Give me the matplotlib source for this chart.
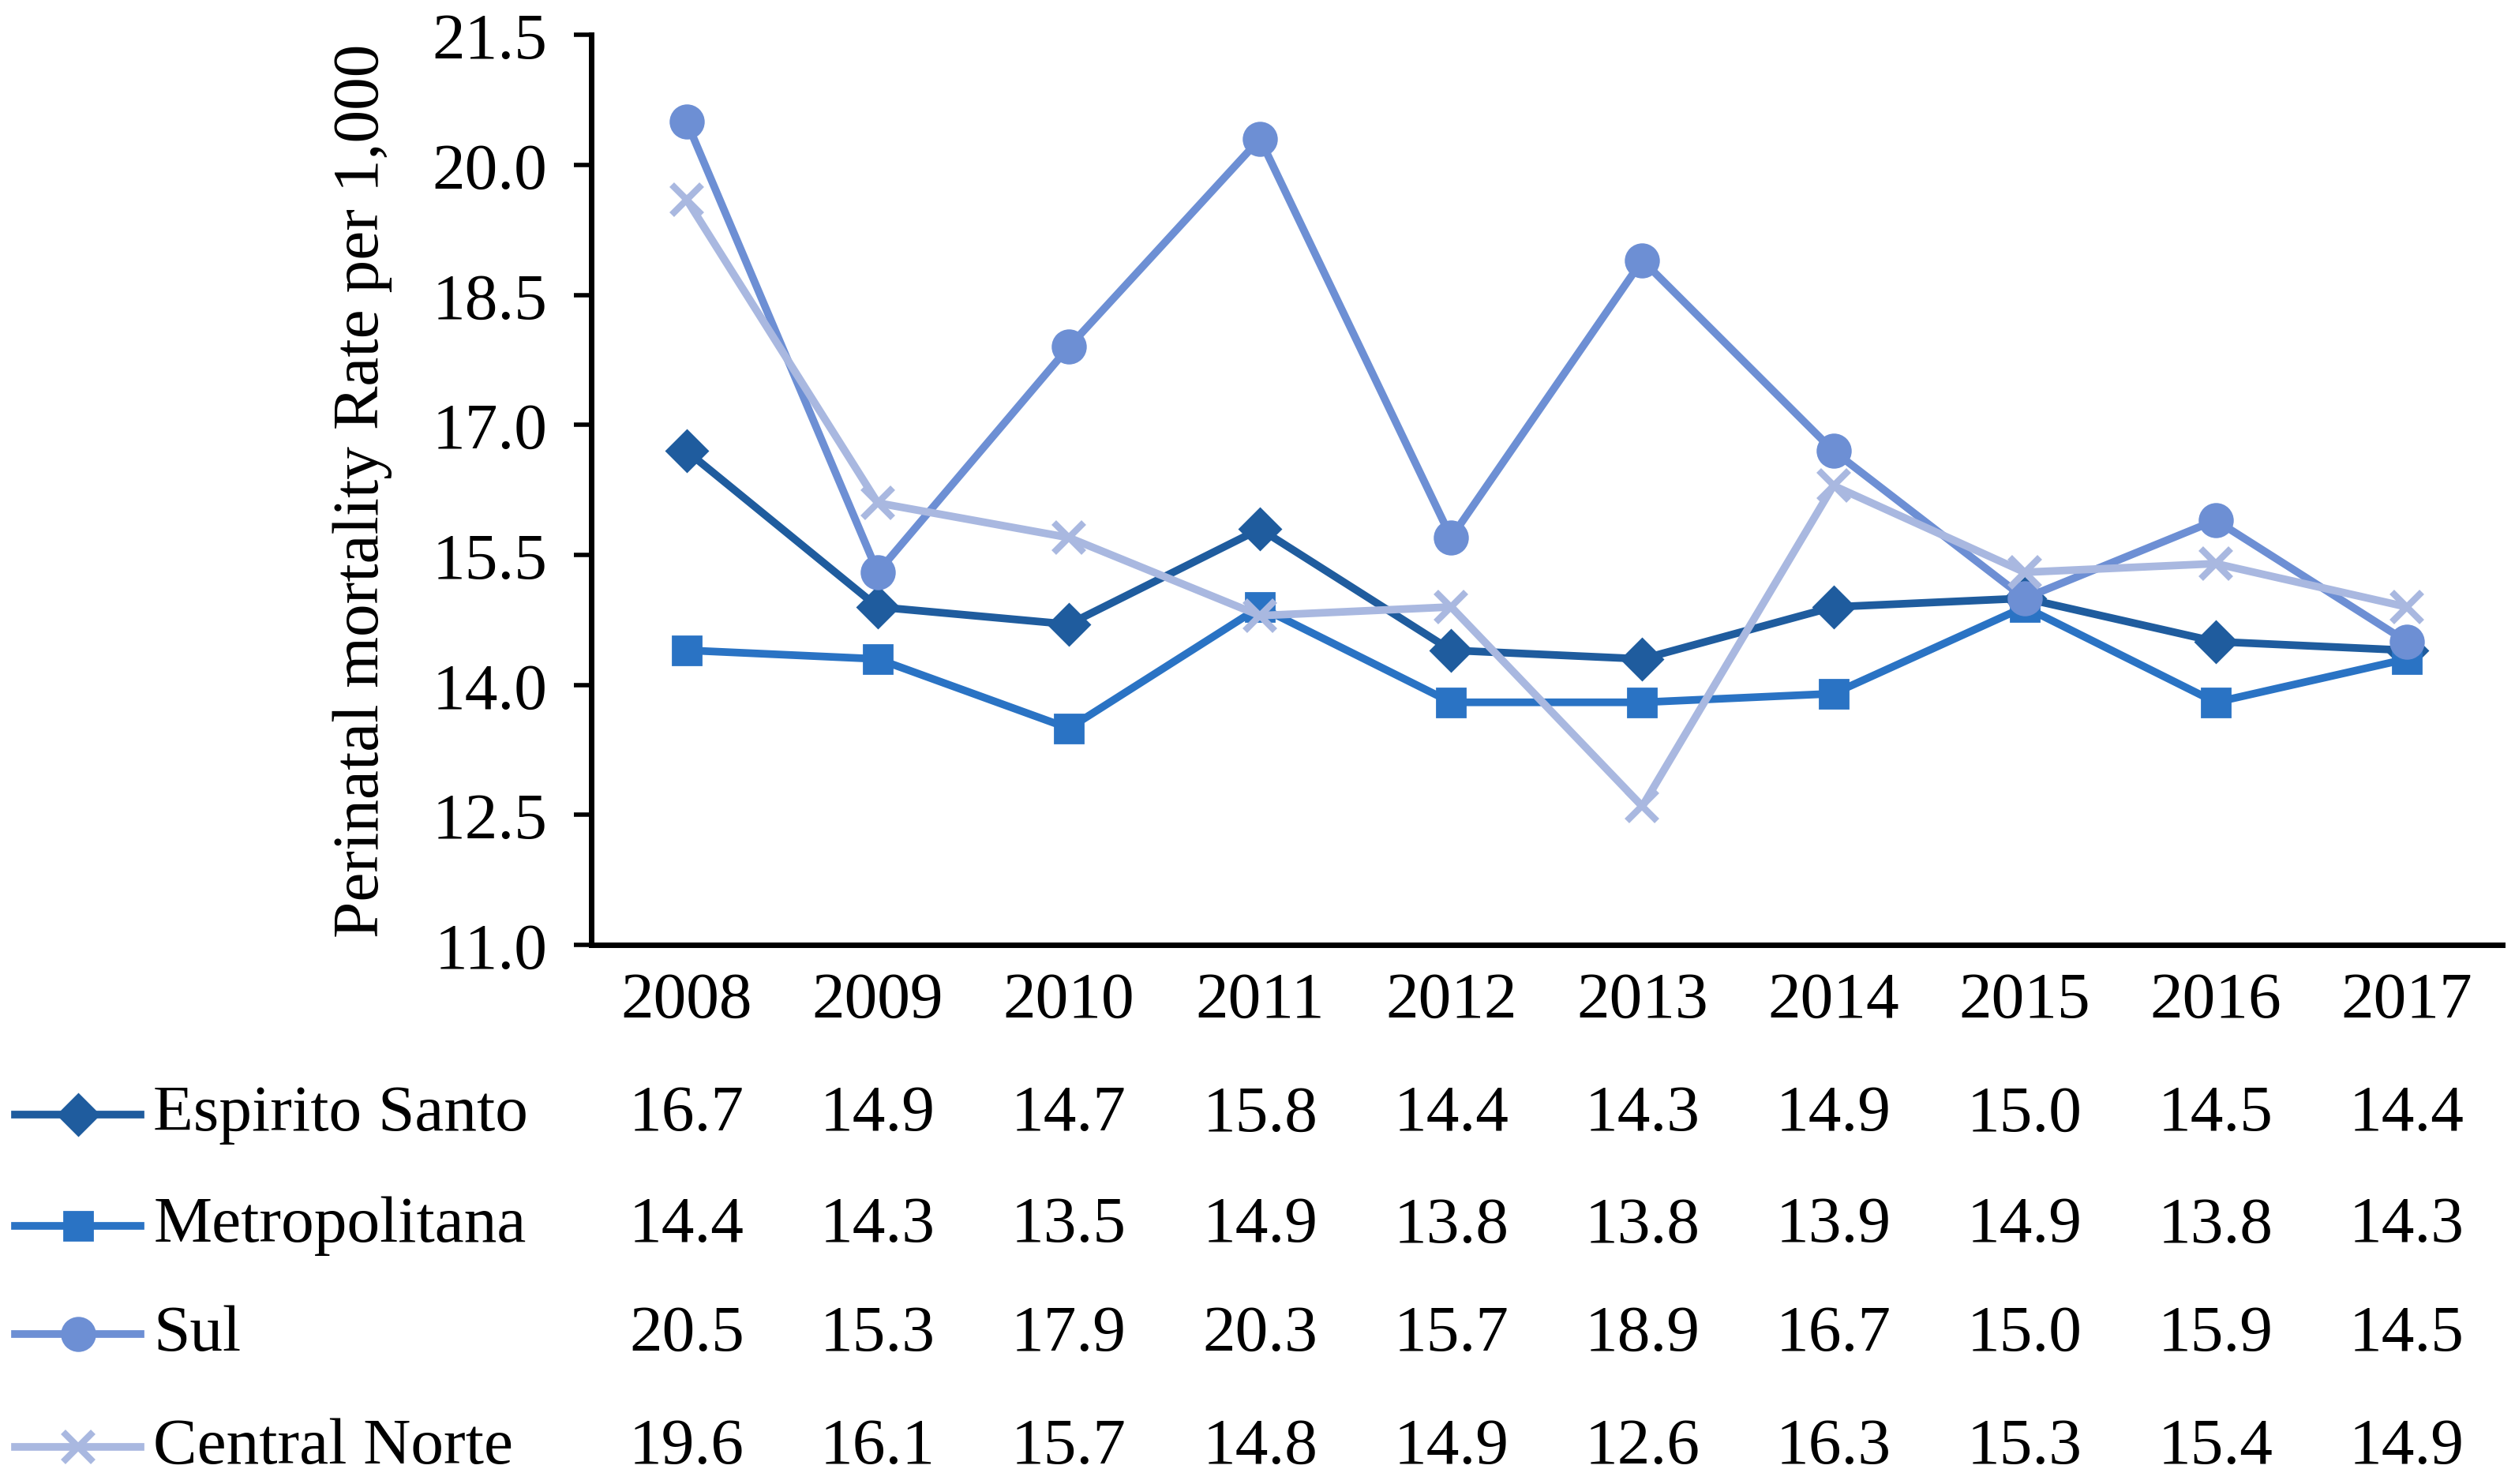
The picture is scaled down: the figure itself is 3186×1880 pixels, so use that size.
import matplotlib.pyplot as plt
import matplotlib.transforms as mtransforms
from matplotlib.lines import Line2D

years = [2008, 2009, 2010, 2011, 2012, 2013, 2014, 2015, 2016, 2017]
names = ['Espirito Santo', 'Metropolitana', 'Sul', 'Central Norte']
espirito = [16.7, 14.9, 14.7, 15.8, 14.4, 14.3, 14.9, 15.0, 14.5, 14.4]
metro = [14.4, 14.3, 13.5, 14.9, 13.8, 13.8, 13.9, 14.9, 13.8, 14.3]
sul = [20.5, 15.3, 17.9, 20.3, 15.7, 18.9, 16.7, 15.0, 15.9, 14.5]
central = [19.6, 16.1, 15.7, 14.8, 14.9, 12.6, 16.3, 15.3, 15.4, 14.9]
series = [espirito, metro, sul, central]
colors = ['#1f5c9e', '#2a73c4', '#6d8fd4', '#a9b8e0']
markers = ['D', 's', 'o', 'x']
msizes = [13, 13, 15, 14]

plt.rcParams['font.family'] = ['Liberation Serif', 'DejaVu Serif']
fs = 30

fig = plt.figure(figsize=(15.93, 9.405), dpi=200)
ax = fig.add_axes([0.235, 0.363, 0.76, 0.613])
xs = list(range(len(years)))
for s, c, m, ms in zip(series, colors, markers, msizes):
    ax.plot(xs, s, color=c, marker=m, markersize=ms, linewidth=3.5,
            markeredgewidth=3 if m == 'x' else 1)

ax.set_ylim(11, 21.5)
ax.set_yticks([11 + 1.5 * i for i in range(8)])
ax.set_yticklabels(['%.1f' % (11 + 1.5 * i) for i in range(8)], fontsize=fs)
ax.set_xlim(-0.5, len(years) - 0.5)
ax.set_xticks(xs)
ax.set_xticklabels([str(y) for y in years], fontsize=fs)
ax.tick_params(length=0, pad=12)
ax.tick_params(axis='y', length=8, width=2, direction='out')
for sp in ['top', 'right']:
    ax.spines[sp].set_visible(False)
for sp in ['left', 'bottom']:
    ax.spines[sp].set_linewidth(2.5)
ax.set_ylabel('Perinatal mortality Rate per 1,000', fontsize=fs, labelpad=18)

trans = mtransforms.blended_transform_factory(ax.transData, fig.transFigure)
row_y = [0.249, 0.174, 0.101, 0.025]
for name, s, c, m, ms, y in zip(names, series, colors, markers, msizes, row_y):
    fig.add_artist(Line2D([0.006, 0.056], [y, y], transform=fig.transFigure,
                          color=c, linewidth=3.5))
    fig.add_artist(Line2D([0.031], [y], transform=fig.transFigure, color=c,
                          marker=m, markersize=ms,
                          markeredgewidth=3 if m == 'x' else 1))
    fig.text(0.061, y, name, fontsize=fs, va='center', ha='left')
    for x, v in zip(xs, s):
        fig.text(x, y, '%.1f' % v, transform=trans, fontsize=fs,
                 va='center', ha='center')

fig.savefig('out.png', dpi=200)
